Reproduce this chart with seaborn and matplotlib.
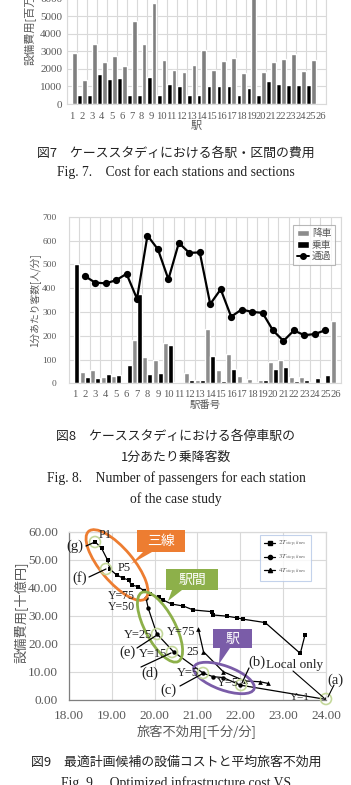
import numpy as np
import pandas as pd
import matplotlib
matplotlib.use("Agg")
import matplotlib.pyplot as plt
import seaborn as sns
from matplotlib.patches import Ellipse, Polygon, Patch
from matplotlib.lines import Line2D
from matplotlib.transforms import Affine2D
from matplotlib.ticker import FormatStrFormatter

sns.set_theme(style="white")
plt.rcParams["font.family"] = ["Liberation Serif", "Noto Sans CJK JP", "DejaVu Sans"]
plt.rcParams["mathtext.fontset"] = "stix"

# ---------------- data ----------------
stations = [str(i) for i in range(1, 27)]
# Fig.7 costs [million yen]
fig7_station_cost = [0, 500, 500, 1700, 1400, 1500, 500, 500, 1550, 500, 1150, 1050, 500,
                     500, 1050, 1000, 1050, 500, 900, 500, 1300, 1150, 1100, 1100, 1100, 0]
fig7_section_cost = [2900, 1350, 3400, 2400, 2750, 2150, 4750, 3400, 5750, 2500, 1950, 1800, 2200,
                     3100, 1950, 2450, 2600, 1750, 6500, 1800, 2400, 2550, 2850, 1900, 2500, 0]
# Fig.8 passengers per minute
fig8_alight = [0, 47, 55, 25, 30, 5, 180, 110, 100, 168, 5, 42, 15,
               230, 55, 125, 30, 17, 12, 88, 98, 27, 25, 5, 5, 262]
fig8_board = [500, 25, 23, 40, 35, 75, 375, 40, 42, 160, 0, 15, 12,
              115, 10, 58, 7, 7, 12, 58, 70, 8, 15, 22, 35, 0]
fig8_pass_stations = stations[1:25]
fig8_pass = [451, 423, 420, 433, 460, 355, 621, 563, 437, 590, 548, 550,
             333, 395, 280, 310, 300, 296, 222, 178, 222, 202, 207, 223]
# Fig.9 candidates
f9_2T_x = [18.61, 18.76, 18.90, 18.96, 19.11, 19.27, 19.39, 19.46, 19.62, 19.74, 19.90, 20.09,
           20.20, 20.40, 20.67, 20.90, 21.33, 21.37, 21.68, 21.92, 22.07, 22.58, 23.40, 23.51]
f9_2T_y = [56.4, 54.1, 49.9, 46.6, 44.6, 43.4, 42.8, 41.0, 40.4, 39.0, 37.8, 36.6,
           35.6, 34.2, 33.5, 32.1, 31.5, 30.3, 29.9, 29.3, 28.8, 27.6, 16.6, 23.2]
f9_3T_x = [19.80, 19.85, 20.05, 20.44, 21.14, 21.37, 21.60, 22.00, 24.00]
f9_3T_y = [36.2, 32.7, 23.6, 17.2, 9.5, 8.3, 8.0, 5.3, 0.2]
f9_4T_x = [21.02, 21.14, 21.60, 22.10, 22.46, 22.65]
f9_4T_y = [25.2, 17.2, 10.1, 6.8, 6.5, 5.9]
f9_labels = ["$2T_{stop,lines}$", "$3T_{stop,lines}$", "$4T_{stop,lines}$"]

# ---------------- layout helpers ----------------
W, H = 351, 785
fig = plt.figure(figsize=(W / 100, H / 100), dpi=100)
pix = Affine2D().scale(1 / W, -1 / H).translate(0, 1) + fig.transFigure
JP = ["Noto Sans CJK JP", "DejaVu Sans"]
SERIF = ["Liberation Serif", "Noto Sans CJK JP"]
GRAY_TXT = "#595959"
GRID = "#D9D9D9"


def box(l, t, r, b):
    return [l / W, 1 - b / H, (r - l) / W, (b - t) / H]


def ptext(x, y, s, **kw):
    kw.setdefault("ha", "center")
    kw.setdefault("va", "center")
    fig.text(x, y, s, transform=pix, **kw)


def pline(x1, y1, x2, y2, **kw):
    fig.add_artist(Line2D([x1, x2], [y1, y2], transform=pix, **kw))


def cat_axes_style(ax, ysize, xsize, xpad, ypad):
    ax.set_xlim(-0.5, 25.5)
    ax.set_xticks(np.arange(-0.5, 26, 1), minor=True)
    ax.grid(which="minor", axis="x", color=GRID, lw=0.8)
    ax.grid(which="major", axis="y", color=GRID, lw=0.8)
    ax.grid(which="major", axis="x", visible=False)
    ax.set_axisbelow(True)
    ax.tick_params(axis="both", which="both", length=0, colors=GRAY_TXT)
    ax.tick_params(axis="x", labelsize=xsize, pad=xpad)
    ax.tick_params(axis="y", labelsize=ysize, pad=ypad)
    for lab in ax.get_xticklabels() + ax.get_yticklabels():
        lab.set_family(SERIF)
    for s in ax.spines.values():
        s.set_color(GRID)
        s.set_linewidth(0.8)
    ax.set_xlabel("")
    ax.set_ylabel("")


# ---------------- Fig.7 ----------------
ax1 = fig.add_axes(box(67, -18.7, 326, 104))
df7 = pd.DataFrame({
    "station": stations * 2,
    "cost": fig7_station_cost + fig7_section_cost,
    "kind": ["station"] * 26 + ["section"] * 26,
})
sns.barplot(data=df7, x="station", y="cost", hue="kind", order=stations,
            hue_order=["station", "section"],
            palette={"station": "#000000", "section": "#7F7F7F"},
            width=0.96, gap=0, errorbar=None, saturation=1, legend=False, ax=ax1)
ax1.set_ylim(0, 7000)
ax1.set_yticks(np.arange(0, 6001, 1000))
cat_axes_style(ax1, 8, 7.6, 6, 3.5)
ptext(30, 22, "設備費用[百万円]", rotation=90, fontsize=8, color=GRAY_TXT, family=JP)
ptext(196, 126, "駅", fontsize=8, color=GRAY_TXT, family=JP)

ptext(176, 153, "図7　ケーススタディにおける各駅・区間の費用", fontsize=9.3, family=JP, color="#222222")
ptext(176, 172, "Fig. 7.    Cost for each stations and sections", fontsize=9.8, family=SERIF, color="#222222")

# ---------------- Fig.8 ----------------
ax2 = fig.add_axes(box(69, 216.7, 341, 383.3))
df8 = pd.DataFrame({
    "station": stations * 2,
    "pax": fig8_alight + fig8_board,
    "kind": ["降車"] * 26 + ["乗車"] * 26,
})
sns.barplot(data=df8, x="station", y="pax", hue="kind", order=stations,
            hue_order=["降車", "乗車"],
            palette={"降車": "#8C8C8C", "乗車": "#000000"},
            width=0.96, gap=0, errorbar=None, saturation=1, legend=False, ax=ax2)
df8l = pd.DataFrame({"station": fig8_pass_stations, "pax": fig8_pass})
sns.pointplot(data=df8l, x="station", y="pax", order=stations, color="black",
              markers="o", markersize=4, linewidth=1.6, errorbar=None, ax=ax2)
ax2.set_ylim(0, 700)
ax2.set_yticks(np.arange(0, 701, 100))
cat_axes_style(ax2, 6.8, 7.6, 5, 9)
handles = [Patch(facecolor="#8C8C8C", label="降車"),
           Patch(facecolor="#000000", label="乗車"),
           Line2D([], [], color="black", marker="o", ms=4, lw=1.4, label="通過")]
leg = ax2.legend(handles=handles, loc="upper right", bbox_to_anchor=(335 / W, 1 - 225 / H),
                 bbox_transform=fig.transFigure, borderaxespad=0, fontsize=7,
                 prop={"family": JP, "size": 7}, frameon=True, fancybox=False,
                 edgecolor="#A6A6A6", handlelength=1.3, handleheight=0.7,
                 labelspacing=0.15, borderpad=0.35, handletextpad=0.3)
leg.get_frame().set_linewidth(0.8)
for t in leg.get_texts():
    t.set_color(GRAY_TXT)
ptext(36, 300, "1分あたり客数[人/分]", rotation=90, fontsize=7, color=GRAY_TXT, family=JP)
ptext(205, 405, "駅番号", fontsize=7.5, color=GRAY_TXT, family=JP)

ptext(176, 436, "図8　ケーススタディにおける各停車駅の", fontsize=9.3, family=JP, color="#222222")
ptext(176, 457, "1分あたり乗降客数", fontsize=9.3, family=JP, color="#222222")
ptext(176, 478, "Fig. 8.    Number of passengers for each station", fontsize=9.8, family=SERIF, color="#222222")
ptext(176, 499, "of the case study", fontsize=9.8, family=SERIF, color="#222222")

# ---------------- Fig.9 ----------------
ax3 = fig.add_axes(box(69, 531.7, 326, 700))
sns.lineplot(x=f9_2T_x, y=f9_2T_y, sort=False, estimator=None, marker="s", markersize=3.2,
             markeredgewidth=0, color="black", linewidth=0.9, ax=ax3)
sns.lineplot(x=f9_3T_x, y=f9_3T_y, sort=False, estimator=None, marker="o", markersize=3.2,
             markeredgewidth=0, color="black", linewidth=0.9, ax=ax3)
sns.lineplot(x=f9_4T_x, y=f9_4T_y, sort=False, estimator=None, marker="^", markersize=3.4,
             markeredgewidth=0, color="black", linewidth=0.9, ax=ax3)
ax3.set_xlim(18, 24)
ax3.set_ylim(0, 60)
ax3.set_xticks(np.arange(18, 24.01, 1))
ax3.set_yticks(np.arange(0, 60.01, 10))
ax3.xaxis.set_major_formatter(FormatStrFormatter("%.2f"))
ax3.yaxis.set_major_formatter(FormatStrFormatter("%.2f"))
ax3.grid(True, color=GRID, lw=0.8)
ax3.set_axisbelow(True)
ax3.tick_params(axis="both", length=0, colors=GRAY_TXT, labelsize=9.5)
ax3.tick_params(axis="x", pad=7)
ax3.tick_params(axis="y", pad=8)
for lab in ax3.get_xticklabels() + ax3.get_yticklabels():
    lab.set_family(SERIF)
for k, s in ax3.spines.items():
    s.set_color("#7F7F7F" if k in ("left", "bottom") else GRID)
    s.set_linewidth(0.9)
ax3.set_xlabel("")
ax3.set_ylabel("")
h9 = [Line2D([], [], color="black", marker=m, ms=3, lw=0.9, label=l)
      for m, l in zip(["s", "o", "^"], f9_labels)]
leg9 = ax3.legend(handles=h9, loc="upper left", bbox_to_anchor=(260 / W, 1 - 535 / H),
                  bbox_transform=fig.transFigure, borderaxespad=0, fontsize=5,
                  frameon=True, fancybox=False, edgecolor="#B4C7E7",
                  handlelength=1.6, labelspacing=0.5, borderpad=0.6, handletextpad=0.4)
leg9.get_frame().set_linewidth(0.8)
for t in leg9.get_texts():
    t.set_color(GRAY_TXT)

ptext(22, 612, "設備費用[十億円]", rotation=90, fontsize=9.5, color=GRAY_TXT, family=JP)
ptext(197, 732, "旅客不効用[千分/分]", fontsize=9.5, color=GRAY_TXT, family=JP)

# ellipses and call-outs
ORANGE, GREEN, PURPLE = "#ED7D31", "#8DB04A", "#7A5CA8"
fig.add_artist(Ellipse((117, 565), 88, 33, angle=50, transform=pix, fill=False, ec=ORANGE, lw=2))
fig.add_artist(Ellipse((160, 627), 78, 30, angle=62, transform=pix, fill=False, ec=GREEN, lw=2))
fig.add_artist(Ellipse((224, 678), 64, 24, angle=20, transform=pix, fill=False, ec=PURPLE, lw=2))

fig.add_artist(Polygon([(137, 530), (185, 530), (185, 552), (152, 552), (131, 564), (143, 552), (137, 552)],
                       closed=True, transform=pix, fc=ORANGE, ec="none"))
ptext(161, 541, "三線", fontsize=10, color="white", family=JP)
fig.add_artist(Polygon([(166, 569), (218, 569), (218, 590), (182, 590), (168, 601), (172, 590), (166, 590)],
                       closed=True, transform=pix, fc=GREEN, ec="none"))
ptext(192, 579.5, "駅間", fontsize=10, color="white", family=JP)
fig.add_artist(Polygon([(213, 629), (252, 629), (252, 648), (230, 648), (219, 664), (220, 648), (213, 648)],
                       closed=True, transform=pix, fc=PURPLE, ec="none"))
ptext(232.5, 638.5, "駅", fontsize=10, color="white", family=JP)

# highlight rings
for cx, cy in [(95, 542), (106, 569), (157, 634), (172, 652), (203, 673), (241, 685), (326, 699)]:
    fig.add_artist(Ellipse((cx, cy), 11, 11, transform=pix, fill=False, ec="#C4D89B", lw=1.2))

# labels
ann = dict(family=SERIF, color="#222222")
ptext(75, 546, "(g)", fontsize=10.5, **ann)
pline(86, 546, 95, 542, color="black", lw=0.9)
ptext(105, 535, "P1", fontsize=9, **ann)
ptext(80, 578, "(f)", fontsize=10.5, **ann)
pline(89, 577, 106, 569, color="black", lw=0.9)
ptext(124, 568, "P5", fontsize=9, **ann)
ptext(121, 596, "Y=75", fontsize=8.5, **ann)
ptext(121, 607, "Y=50", fontsize=8.5, **ann)
ptext(138, 635, "Y=25", fontsize=9, **ann)
ptext(181, 632, "Y=75", fontsize=9, **ann)
ptext(128, 652, "(e)", fontsize=10.5, **ann)
pline(137, 648, 157, 635, color="black", lw=0.9)
ptext(153, 654, "Y=15", fontsize=9, **ann)
ptext(193, 652, "25", fontsize=9, **ann)
ptext(150, 673, "(d)", fontsize=10.5, **ann)
pline(141, 667, 171, 653, color="black", lw=0.9)
ptext(188, 673, "Y=5", fontsize=9, **ann)
ptext(168, 690, "(c)", fontsize=10.5, **ann)
pline(180, 686, 202, 674, color="black", lw=0.9)
ptext(228, 683, "Y=5", fontsize=9, **ann)
ptext(257, 662, "(b)", fontsize=10.5, **ann)
pline(249, 668, 242, 683, color="black", lw=0.9)
ptext(295, 665, "Local only", fontsize=9.5, **ann)
pline(293, 671, 324, 698, color="black", lw=0.8)
ptext(300, 697, "Y=1", fontsize=8, **ann)
ptext(335, 680, "(a)", fontsize=10.5, **ann)
pline(334, 685, 328, 697, color="black", lw=0.8)

ptext(176, 762, "図9　最適計画候補の設備コストと平均旅客不効用", fontsize=9.3, family=JP, color="#222222")
ptext(176, 783, "Fig. 9.    Optimized infrastructure cost VS", fontsize=9.8, family=SERIF, color="#222222")

fig.savefig("out.png", dpi=100)
